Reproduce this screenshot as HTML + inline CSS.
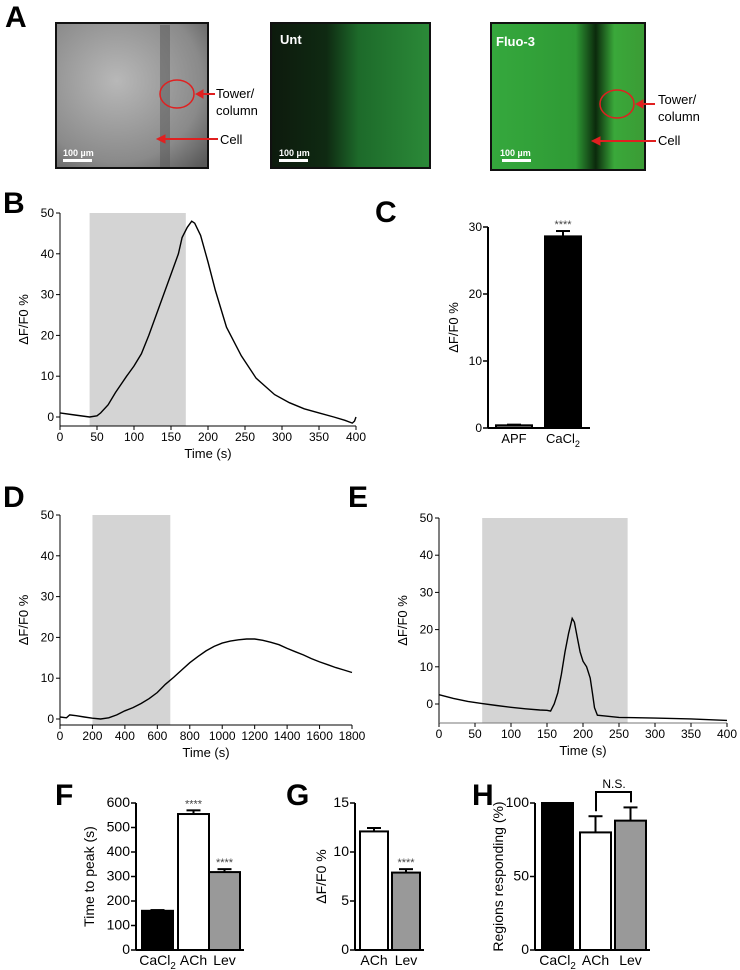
<!DOCTYPE html>
<html><head><meta charset="utf-8"><style>
html,body{margin:0;padding:0;background:#fff;}
svg{display:block;font-family:"Liberation Sans",Arial,sans-serif;}
</style></head><body>
<svg id="fig" width="740" height="970" viewBox="0 0 740 970" xmlns="http://www.w3.org/2000/svg">
<defs>
<radialGradient id="gGray" cx="0.4" cy="0.4" r="0.8"><stop offset="0" stop-color="#b8b8b8"/><stop offset="0.7" stop-color="#8a8a8a"/><stop offset="1" stop-color="#5a5a5a"/></radialGradient>
<linearGradient id="gUnt" x1="0" x2="1" y1="0" y2="0"><stop offset="0" stop-color="#0d1a0d"/><stop offset="0.35" stop-color="#0f2a12"/><stop offset="0.55" stop-color="#1d6a2a"/><stop offset="1" stop-color="#2b8a38"/></linearGradient>
<linearGradient id="gFluo" x1="0" x2="1" y1="0" y2="0"><stop offset="0" stop-color="#35a83d"/><stop offset="0.55" stop-color="#2f9a35"/><stop offset="0.68" stop-color="#0b2a0c"/><stop offset="0.8" stop-color="#3aa83a"/><stop offset="1" stop-color="#3b9b35"/></linearGradient>
</defs>

<!-- Panel A -->
<text x="5" y="27" font-size="30" font-weight="bold">A</text>
<g>
<rect x="56" y="23" width="152" height="145" fill="url(#gGray)" stroke="#111" stroke-width="2"/>
<rect x="160" y="25" width="10" height="142" fill="#555" opacity="0.5"/>
<ellipse cx="177" cy="94" rx="17" ry="14" fill="none" stroke="#e02020" stroke-width="1.5"/>
<rect x="63" y="159" width="29" height="3" fill="#fff"/>
<text x="63" y="156" font-size="9" fill="#fff" font-weight="bold">100 µm</text>
</g>
<g>
<rect x="271" y="23" width="159" height="145" fill="url(#gUnt)" stroke="#111" stroke-width="2"/>
<text x="280" y="44" font-size="13" fill="#fff" font-weight="bold">Unt</text>
<rect x="279" y="159" width="29" height="3" fill="#fff"/>
<text x="279" y="156" font-size="9" fill="#fff" font-weight="bold">100 µm</text>
</g>
<g>
<rect x="491" y="23" width="154" height="147" fill="url(#gFluo)" stroke="#111" stroke-width="2"/>
<ellipse cx="617" cy="104" rx="17" ry="14" fill="none" stroke="#e02020" stroke-width="1.5"/>
<text x="496" y="46" font-size="13" fill="#fff" font-weight="bold">Fluo-3</text>
<rect x="502" y="159" width="29" height="3" fill="#fff"/>
<text x="500" y="156" font-size="9" fill="#fff" font-weight="bold">100 µm</text>
</g>
<g fill="#e02020" stroke="#e02020">
<line x1="200" y1="94" x2="215" y2="94" stroke-width="2"/><polygon points="196,94 203,90 203,98"/>
<line x1="162" y1="139" x2="218" y2="139" stroke-width="2"/><polygon points="157,139 165,135 165,143"/>
<line x1="640" y1="104" x2="655" y2="104" stroke-width="2"/><polygon points="636,104 643,100 643,108"/>
<line x1="597" y1="141" x2="656" y2="141" stroke-width="2"/><polygon points="592,141 600,137 600,145"/>
</g>
<g font-size="13" fill="#000">
<text x="216" y="98">Tower/</text><text x="216" y="115">column</text><text x="220" y="144">Cell</text>
<text x="658" y="104">Tower/</text><text x="658" y="121">column</text><text x="658" y="145">Cell</text>
</g>

<text x="3" y="213" font-size="30" font-weight="bold">B</text>
<text x="375" y="222" font-size="30" font-weight="bold">C</text>
<text x="3" y="507" font-size="30" font-weight="bold">D</text>
<text x="348" y="507" font-size="30" font-weight="bold">E</text>
<text x="55" y="805" font-size="30" font-weight="bold">F</text>
<text x="286" y="805" font-size="30" font-weight="bold">G</text>
<text x="472" y="805" font-size="30" font-weight="bold">H</text>

<g id="charts"></g>
</svg>
<script>
// Panel B data
const bTime = [0,20,40,50,55,65,75,90,100,110,120,130,140,150,160,165,172,178,182,190,200,210,225,245,265,290,310,330,350,370,385,395,398,400];
const bVal  = [1,0.5,0,0.3,1,3,6,10,12.5,15.5,20,25,30,35,40,44,46.5,48,47.5,44.5,38,31,22,15,9.5,5.5,3.5,2,1,0,-0.8,-1.5,-1,0];
const bTicksX = [0,50,100,150,200,250,300,350,400];
const bTicksY = [0,10,20,30,40,50];
const bShade = [40,170];
// Panel C data
const cCats = ["APF","CaCl2"];
const cVals = [0.4,28.6];
const cErr = [0.1,0.8];
const cTicksY = [0,10,20,30];
// Panel D data
const dTime = [0,40,60,100,150,200,250,300,350,400,450,500,550,600,650,700,750,800,850,900,950,1000,1050,1100,1150,1200,1250,1300,1350,1400,1450,1500,1550,1600,1650,1700,1750,1800];
const dVal  = [0.5,0.3,1,0.8,0.5,0.2,0,0.3,1,2,2.8,3.8,5,6.5,8.5,10.2,12,13.8,15.3,16.7,17.8,18.6,19.1,19.4,19.6,19.6,19.3,18.8,18.2,17.3,16.5,15.7,14.8,14,13.3,12.6,12,11.4];
const dTicksX = [0,200,400,600,800,1000,1200,1400,1600,1800];
const dTicksY = [0,10,20,30,40,50];
const dShade = [200,680];
// Panel E data
const eTime = [0,20,40,60,80,100,120,140,150,155,160,165,170,175,180,185,188,192,196,200,205,210,213,216,220,230,250,300,350,400];
const eVal  = [2.5,1.5,0.7,0.1,-0.4,-0.9,-1.3,-1.6,-1.7,-1.9,0,3,8,14,19,23,22,18,14,11.5,10,7,3,-1,-3,-3.2,-3.6,-3.8,-4,-4.4];
const eTicksX = [0,50,100,150,200,250,300,350,400];
const eTicksY = [0,10,20,30,40,50];
const eShade = [60,262];
// Panel F data
const fCats = ["CaCl2","ACh","Lev"];
const fVals = [160,555,318];
const fErr = [3,15,12];
const fTicksY = [0,100,200,300,400,500,600];
// Panel G data
const gCats = ["ACh","Lev"];
const gVals = [12.1,7.9];
const gErr = [0.35,0.35];
const gTicksY = [0,5,10,15];
// Panel H data
const hCats = ["CaCl2","ACh","Lev"];
const hVals = [100,80,88];
const hErr = [0,11,9];
const hTicksY = [0,50,100];

const NS="http://www.w3.org/2000/svg";
const root=document.getElementById('charts');
function mk(tag,attrs,parent){const e=document.createElementNS(NS,tag);for(const k in attrs)e.setAttribute(k,attrs[k]);(parent||root).appendChild(e);return e;}
function lin(d0,d1,r0,r1){return v=>r0+(v-d0)*(r1-r0)/(d1-d0);}
function catLabel(g,txt,x,y,fs){
  const t=mk('text',{x:x,y:y,'font-size':fs,'text-anchor':'middle'},g);
  if(txt==="CaCl2"){t.textContent="CaCl";const s=mk('tspan',{'font-size':fs*0.7,dy:4},t);s.textContent="2";}
  else t.textContent=txt;
  return t;
}
function lineChart(name,time,val,ticksX,ticksY,shade,o){
  const g=mk('g',{});
  
  
  const sx=lin(o.x0,o.x1,o.L,o.R), sy=lin(o.y0,o.y1,o.B0,o.T);
  const sh=mk('rect',{x:sx(shade[0]),y:o.T,width:sx(shade[1])-sx(shade[0]),height:o.AB-o.T,fill:'#d4d4d4'},g);
  
  
  mk('line',{x1:o.L,y1:o.T,x2:o.L,y2:o.AB,stroke:'#000','stroke-width':1},g);
  mk('line',{x1:o.L,y1:o.AB,x2:o.R,y2:o.AB,stroke:o.xcol||'#000','stroke-width':1},g);
  ticksY.forEach(v=>{mk('line',{x1:o.L-4,y1:sy(v),x2:o.L,y2:sy(v),stroke:'#000'},g);
    const t=mk('text',{x:o.L-6,y:sy(v)+4,'font-size':12,'text-anchor':'end'},g);t.textContent=v;});
  ticksX.forEach(v=>{mk('line',{x1:sx(v),y1:o.AB,x2:sx(v),y2:o.AB+4,stroke:'#000'},g);
    const t=mk('text',{x:sx(v),y:o.AB+15,'font-size':12,'text-anchor':'middle'},g);t.textContent=v;});
  const p=mk('polyline',{points:time.map((t,i)=>sx(t).toFixed(1)+','+sy(val[i]).toFixed(1)).join(' '),fill:'none',stroke:'#000','stroke-width':1.4},g);
  
  
  const xt=mk('text',{x:(o.L+o.R)/2,y:o.AB+32,'font-size':13,'text-anchor':'middle'},g);xt.textContent='Time (s)';
  
  
  const yt=mk('text',{x:0,y:0,'font-size':13,'text-anchor':'middle',transform:`translate(${o.L-32},${(o.T+o.AB)/2}) rotate(-90)`},g);yt.textContent='ΔF/F0 %';
  
  
}
lineChart('chart-b',bTime,bVal,bTicksX,bTicksY,bShade,{x0:0,x1:400,L:60,R:356,y0:0,y1:50,B0:417,T:213,AB:426});
lineChart('chart-d',dTime,dVal,dTicksX,dTicksY,dShade,{x0:0,x1:1800,L:60,R:352,y0:0,y1:50,B0:719,T:515,AB:725});
lineChart('chart-e',eTime,eVal,eTicksX,eTicksY,eShade,{x0:0,x1:400,L:439,R:727,y0:0,y1:50,B0:704,T:518,AB:723,xcol:'#777'});

function barChart(name,cats,vals,errs,ticksY,o){
  const g=mk('g',{});
  
  
  const sy=lin(o.y0,o.y1,o.B,o.T);
  mk('line',{x1:o.L,y1:o.T,x2:o.L,y2:o.B,stroke:'#000','stroke-width':2},g);
  mk('line',{x1:o.L,y1:o.B,x2:o.R,y2:o.B,stroke:'#000','stroke-width':2},g);
  ticksY.forEach(v=>{mk('line',{x1:o.L-5,y1:sy(v),x2:o.L,y2:sy(v),stroke:'#000','stroke-width':1.5},g);
    const t=mk('text',{x:o.L-6,y:sy(v)+4,'font-size':o.fs||12,'text-anchor':'end'},g);t.textContent=v;});
  cats.forEach((c,i)=>{
    const x=o.bx[i], w=o.bw, top=sy(vals[i]);
    const cx=x+w/2;
    if(errs[i]>0){mk('line',{x1:cx,y1:top,x2:cx,y2:sy(vals[i]+errs[i]),stroke:'#000','stroke-width':2},g);
      mk('line',{x1:cx-7,y1:sy(vals[i]+errs[i]),x2:cx+7,y2:sy(vals[i]+errs[i]),stroke:'#000','stroke-width':2},g);}
    const r=mk('rect',{x:x,y:top,width:w,height:o.B-top,fill:o.fill[i],stroke:'#000','stroke-width':2},g);
    
    
    if(o.stars&&o.stars[i]){const s=mk('text',{x:cx,y:sy(vals[i]+errs[i])-3,'font-size':11,'text-anchor':'middle',fill:'#444'},g);s.textContent='****';}
    catLabel(g,c,cx,o.B+15,o.fs||13);
  });
  const yt=mk('text',{x:0,y:0,'font-size':o.fs||13,'text-anchor':'middle',transform:`translate(${o.yx},${(o.T+o.B)/2}) rotate(-90)`},g);yt.textContent=o.ytitle;
  
  
  return {g,sy};
}
barChart('chart-c',cCats,cVals,cErr,cTicksY,{L:488,R:590,T:227,B:428,y0:0,y1:30,bx:[496,545],bw:36,fill:['#888','#000'],stars:[0,1],ytitle:'ΔF/F0 %',yx:458});
barChart('chart-f',fCats,fVals,fErr,fTicksY,{L:136,R:244,T:803,B:950,y0:0,y1:600,bx:[142,178,209],bw:31,fill:['#000','#fff','#999'],stars:[0,1,1],ytitle:'Time to peak (s)',yx:94,fs:14});
barChart('chart-g',gCats,gVals,gErr,gTicksY,{L:355,R:424,T:803,B:950,y0:0,y1:15,bx:[360,392],bw:28,fill:['#fff','#999'],stars:[0,1],ytitle:'ΔF/F0 %',yx:326,fs:14});
const H=barChart('chart-h',hCats,hVals,hErr,hTicksY,{L:535,R:650,T:803,B:950,y0:0,y1:100,bx:[542,580,615],bw:31,fill:['#000','#fff','#999'],ytitle:'Regions responding (%)',yx:503,fs:14});
const br=mk('polyline',{points:`596,${H.sy(hVals[1]+hErr[1])-5} 596,792 631,792 631,${H.sy(hVals[2]+hErr[2])-5}`,fill:'none',stroke:'#000','stroke-width':2},H.g);


const nst=mk('text',{x:614,y:788,'font-size':12,'text-anchor':'middle'},H.g);nst.textContent='N.S.';


</script>
</body></html>
